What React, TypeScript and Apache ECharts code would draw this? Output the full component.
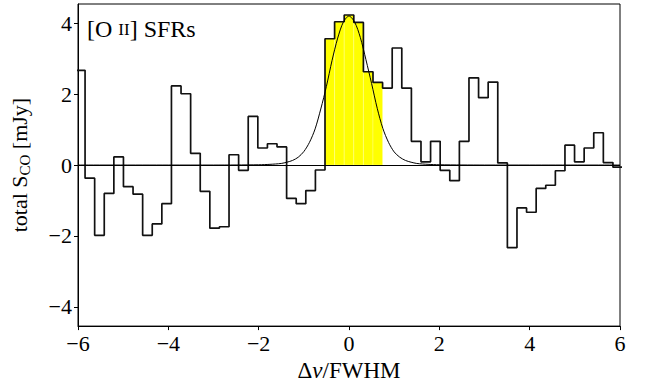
import React, { useEffect, useRef } from "react";
import * as echarts from "echarts";

// channel width in units of FWHM; channels are centred on k * binWidth
const binWidth = 0.2125;
const firstChannel = -28;
// total S_CO [mJy] per channel, from k = -28 to k = 28
const fluxValues = [
  2.67, -0.37, -1.98, -0.8, 0.23, -0.61, -0.82, -1.98, -1.66, -1.09,
  2.23, 2.01, 0.33, -0.74, -1.78, -1.74, 0.29, -0.15, 1.37, 0.48,
  0.6, 0.51, -0.94, -1.09, -0.72, -0.14, 3.56, 4.04, 4.23, 4.02,
  2.63, 2.33, 2.17, 3.3, 2.17, 0.67, 0.09, 0.67, -0.15, -0.44,
  0.67, 2.46, 1.9, 2.34, 0.06, -2.33, -1.21, -1.33, -0.66, -0.57,
  -0.16, 0.56, 0.09, 0.48, 0.91, 0.07, -0.06,
];
// channels used for the [O II] SFR integration (highlighted)
const highlightChannels = [-2, -1, 0, 1, 2, 3];

// model line profile
const modelX = [
  -6, -4, -3, -2.5, -2, -1.875, -1.75, -1.625, -1.5, -1.375, -1.25, -1.125, -1,
  -0.875, -0.75, -0.625, -0.5, -0.375, -0.25, -0.125, 0, 0.125, 0.25, 0.375,
  0.5, 0.625, 0.75, 0.875, 1, 1.125, 1.25, 1.375, 1.5, 1.625, 1.75, 1.875, 2,
  2.5, 3, 4, 6,
];
const modelY = [
  0, 0, 0, 0.002, 0.008, 0.012, 0.02, 0.03, 0.045, 0.08, 0.13, 0.22, 0.38,
  0.64, 1.02, 1.58, 2.22, 2.95, 3.58, 4.03, 4.2, 4.03, 3.6, 2.97, 2.3, 1.6,
  1.03, 0.64, 0.37, 0.22, 0.13, 0.08, 0.045, 0.03, 0.02, 0.012, 0.008, 0.002,
  0, 0, 0,
];

const xTicks = [-6, -4, -2, 0, 2, 4, 6];
const yTicks = [-4, -2, 0, 2, 4];

const FONT = "Liberation Serif";
const minus = (v: number) => String(v).replace("-", "\u2212");

export default function App() {
  const ref = useRef<HTMLDivElement>(null);
  useEffect(() => {
    document.body.style.margin = "0";
    if (!ref.current) return;
    const chart = echarts.init(ref.current, null, { renderer: "svg" });

    const stepData: number[][] = fluxValues.map((v, i) => [
      (firstChannel + i - 0.5) * binWidth,
      v,
    ]);
    const lastK = firstChannel + fluxValues.length - 1;
    stepData.push([(lastK + 0.5) * binWidth, fluxValues[fluxValues.length - 1]]);

    const barData = highlightChannels.map((k) => [
      k * binWidth,
      fluxValues[k - firstChannel],
    ]);

    const modelData = modelX.map((x, i) => [x, modelY[i]]);

    chart.setOption({
      animation: false,
      title: {
        text: "{m|[O }{sc|II}{m|] SFRs}",
        left: 82,
        top: 10,
        textStyle: {
          fontFamily: FONT,
          fontSize: 24,
          fontWeight: "normal",
          color: "#000",
          rich: {
            m: { fontFamily: FONT, fontSize: 24, color: "#000", verticalAlign: "bottom", lineHeight: 26 },
            sc: { fontFamily: FONT, fontSize: 17, color: "#000", verticalAlign: "bottom", lineHeight: 20, padding: [0, 0, 3, 0] },
          },
        },
      },
      grid: {
        left: 75,
        right: 32,
        top: 4,
        bottom: 56,
        show: true,
        borderColor: "#000",
        borderWidth: 1,
      },
      xAxis: {
        type: "value",
        min: -6,
        max: 6,
        interval: 2,
        name: "\u0394{i|v}/FWHM",
        nameLocation: "middle",
        nameGap: 28,
        nameTextStyle: {
          fontFamily: FONT,
          fontSize: 23,
          color: "#000",
          rich: { i: { fontFamily: FONT, fontSize: 23, fontStyle: "italic", color: "#000" } },
        },
        axisLine: { show: true, onZero: false, lineStyle: { color: "#000", width: 1 } },
        axisTick: { show: true, inside: false, length: 4, lineStyle: { color: "#000" }, customValues: xTicks },
        axisLabel: {
          customValues: xTicks,
          formatter: (v: number) => minus(v),
          fontFamily: FONT,
          fontSize: 22,
          color: "#000",
          margin: 6,
        },
        splitLine: { show: false },
      },
      yAxis: {
        type: "value",
        min: -4.54,
        max: 4.54,
        name: "{m|total S}{sub|CO}{m| [mJy]}",
        nameLocation: "middle",
        nameRotate: 90,
        nameGap: 46,
        nameTextStyle: {
          fontFamily: FONT,
          fontSize: 22,
          color: "#000",
          rich: {
            m: { fontFamily: FONT, fontSize: 22, color: "#000", verticalAlign: "top", lineHeight: 24 },
            sub: { fontFamily: FONT, fontSize: 15, color: "#000", verticalAlign: "bottom", lineHeight: 17 },
          },
        },
        axisLine: { show: true, onZero: false, lineStyle: { color: "#000", width: 1 } },
        axisTick: { show: true, inside: false, length: 4, lineStyle: { color: "#000" }, customValues: yTicks },
        axisLabel: {
          customValues: yTicks,
          formatter: (v: number) => minus(v),
          fontFamily: FONT,
          fontSize: 22,
          color: "#000",
          margin: 6,
        },
        splitLine: { show: false },
      },
      series: [
        {
          type: "custom",
          z: 1,
          data: barData,
          encode: { x: 0, y: 1 },
          renderItem: (params: any, api: any) => {
            const c = api.value(0);
            const v = api.value(1);
            const a = api.coord([c - binWidth / 2, v]);
            const b = api.coord([c + binWidth / 2, 0]);
            return {
              type: "rect",
              shape: {
                x: a[0],
                y: Math.min(a[1], b[1]),
                width: b[0] - a[0],
                height: Math.abs(b[1] - a[1]),
              },
              style: { fill: "#ffff00", stroke: "rgba(255,255,255,0.45)", lineWidth: 0.5 },
            };
          },
        },
        {
          type: "line",
          z: 3,
          data: stepData,
          step: "end",
          symbol: "none",
          clip: true,
          lineStyle: { color: "#111", width: 1.7 },
          silent: true,
        },
        {
          type: "line",
          z: 4,
          data: modelData,
          smooth: 0.3,
          symbol: "none",
          clip: true,
          lineStyle: { color: "#000", width: 1 },
          silent: true,
          markLine: {
            silent: true,
            symbol: ["none", "none"],
            label: { show: false },
            lineStyle: { color: "#000", width: 1, type: "solid" },
            data: [{ yAxis: 0 }],
          },
        },
      ],
    });
    return () => chart.dispose();
  }, []);
  return <div ref={ref} style={{ width: 652, height: 387 }} />;
}
